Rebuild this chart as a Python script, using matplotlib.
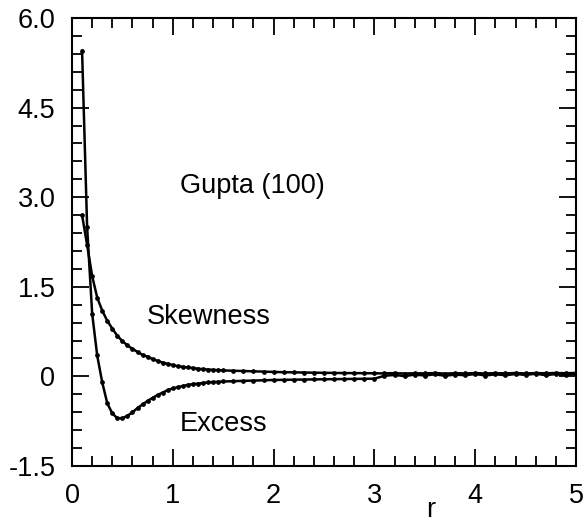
import numpy as np
import matplotlib
matplotlib.use("Agg")
import matplotlib.pyplot as plt
from matplotlib.ticker import MultipleLocator

plt.rcParams['font.family'] = ['Liberation Sans', 'DejaVu Sans']

r = [0.10, 0.15, 0.20, 0.25, 0.30, 0.35, 0.40, 0.45, 0.50, 0.55,
     0.60, 0.65, 0.70, 0.75, 0.80, 0.85, 0.90, 0.95, 1.00, 1.05,
     1.10, 1.15, 1.20, 1.25, 1.30, 1.35, 1.40, 1.45, 1.50, 1.60,
     1.70, 1.80, 1.90, 2.00, 2.10, 2.20, 2.30, 2.40, 2.50, 2.60,
     2.70, 2.80, 2.90, 3.00, 3.10, 3.20, 3.30, 3.40, 3.50, 3.60,
     3.70, 3.80, 3.90, 4.00, 4.10, 4.20, 4.30, 4.40, 4.50, 4.60,
     4.70, 4.80, 4.90, 5.00]

skewness = [2.70, 2.20, 1.68, 1.32, 1.10, 0.93, 0.80, 0.68, 0.59, 0.52,
            0.46, 0.41, 0.36, 0.33, 0.29, 0.26, 0.23, 0.21, 0.19, 0.17,
            0.16, 0.15, 0.14, 0.13, 0.12, 0.115, 0.11, 0.105, 0.10, 0.095,
            0.09, 0.085, 0.08, 0.075, 0.07, 0.068, 0.065, 0.062, 0.06, 0.058,
            0.056, 0.055, 0.054, 0.052, 0.050, 0.055, 0.048, 0.052, 0.050, 0.056,
            0.047, 0.053, 0.050, 0.055, 0.049, 0.054, 0.051, 0.056, 0.050, 0.055,
            0.052, 0.057, 0.053, 0.058]

excess = [5.45, 2.50, 1.05, 0.35, -0.10, -0.45, -0.62, -0.70, -0.70, -0.66,
          -0.60, -0.53, -0.47, -0.41, -0.36, -0.31, -0.27, -0.23, -0.20, -0.18,
          -0.16, -0.14, -0.13, -0.12, -0.11, -0.10, -0.095, -0.09, -0.085, -0.08,
          -0.075, -0.07, -0.065, -0.06, -0.058, -0.055, -0.053, -0.05, -0.048, -0.046,
          -0.044, -0.042, -0.040, -0.038, 0.010, 0.025, 0.005, 0.030, 0.015, 0.035,
          0.010, 0.030, 0.020, 0.040, 0.015, 0.035, 0.020, 0.040, 0.025, 0.045,
          0.020, 0.040, 0.030, 0.045]

xticks = [0, 1, 2, 3, 4, 5]
xtick_labels = ['0', '1', '2', '3', '4', '5']
yticks = [-1.5, 0, 1.5, 3.0, 4.5, 6.0]
ytick_labels = ['-1.5', '0', '1.5', '3.0', '4.5', '6.0']

FS = 19.5

fig = plt.figure(figsize=(5.88, 5.23), dpi=100)
ax = fig.add_axes([72/588, 57/523, 504/588, 448/523])

for y in (skewness, excess):
    ax.plot(r, y, color='black', lw=1.8, marker='o', ms=2.4, mfc='black', mec='black')

ax.set_xlim(0, 5)
ax.set_ylim(-1.5, 6.0)
ax.set_xticks(xticks)
ax.set_xticklabels(xtick_labels)
ax.set_yticks(yticks)
ax.set_yticklabels(ytick_labels)
ax.xaxis.set_minor_locator(MultipleLocator(0.2))
ax.yaxis.set_minor_locator(MultipleLocator(0.3))

ax.tick_params(which='both', direction='in', top=True, right=True, width=1.3,
               labelsize=FS, pad=12)
ax.tick_params(which='major', length=12)
ax.tick_params(which='minor', length=7)
for s in ax.spines.values():
    s.set_linewidth(1.5)

fig.text(431/588, 6/523, 'r', fontsize=FS, ha='center', va='baseline')

ax.text(1.07, 3.18, 'Gupta (100)', fontsize=FS, va='center', ha='left')
ax.text(0.74, 1.0, 'Skewness', fontsize=FS, va='center', ha='left')
ax.text(1.07, -0.8, 'Excess', fontsize=FS, va='center', ha='left')

fig.savefig('out.png', dpi=100)
